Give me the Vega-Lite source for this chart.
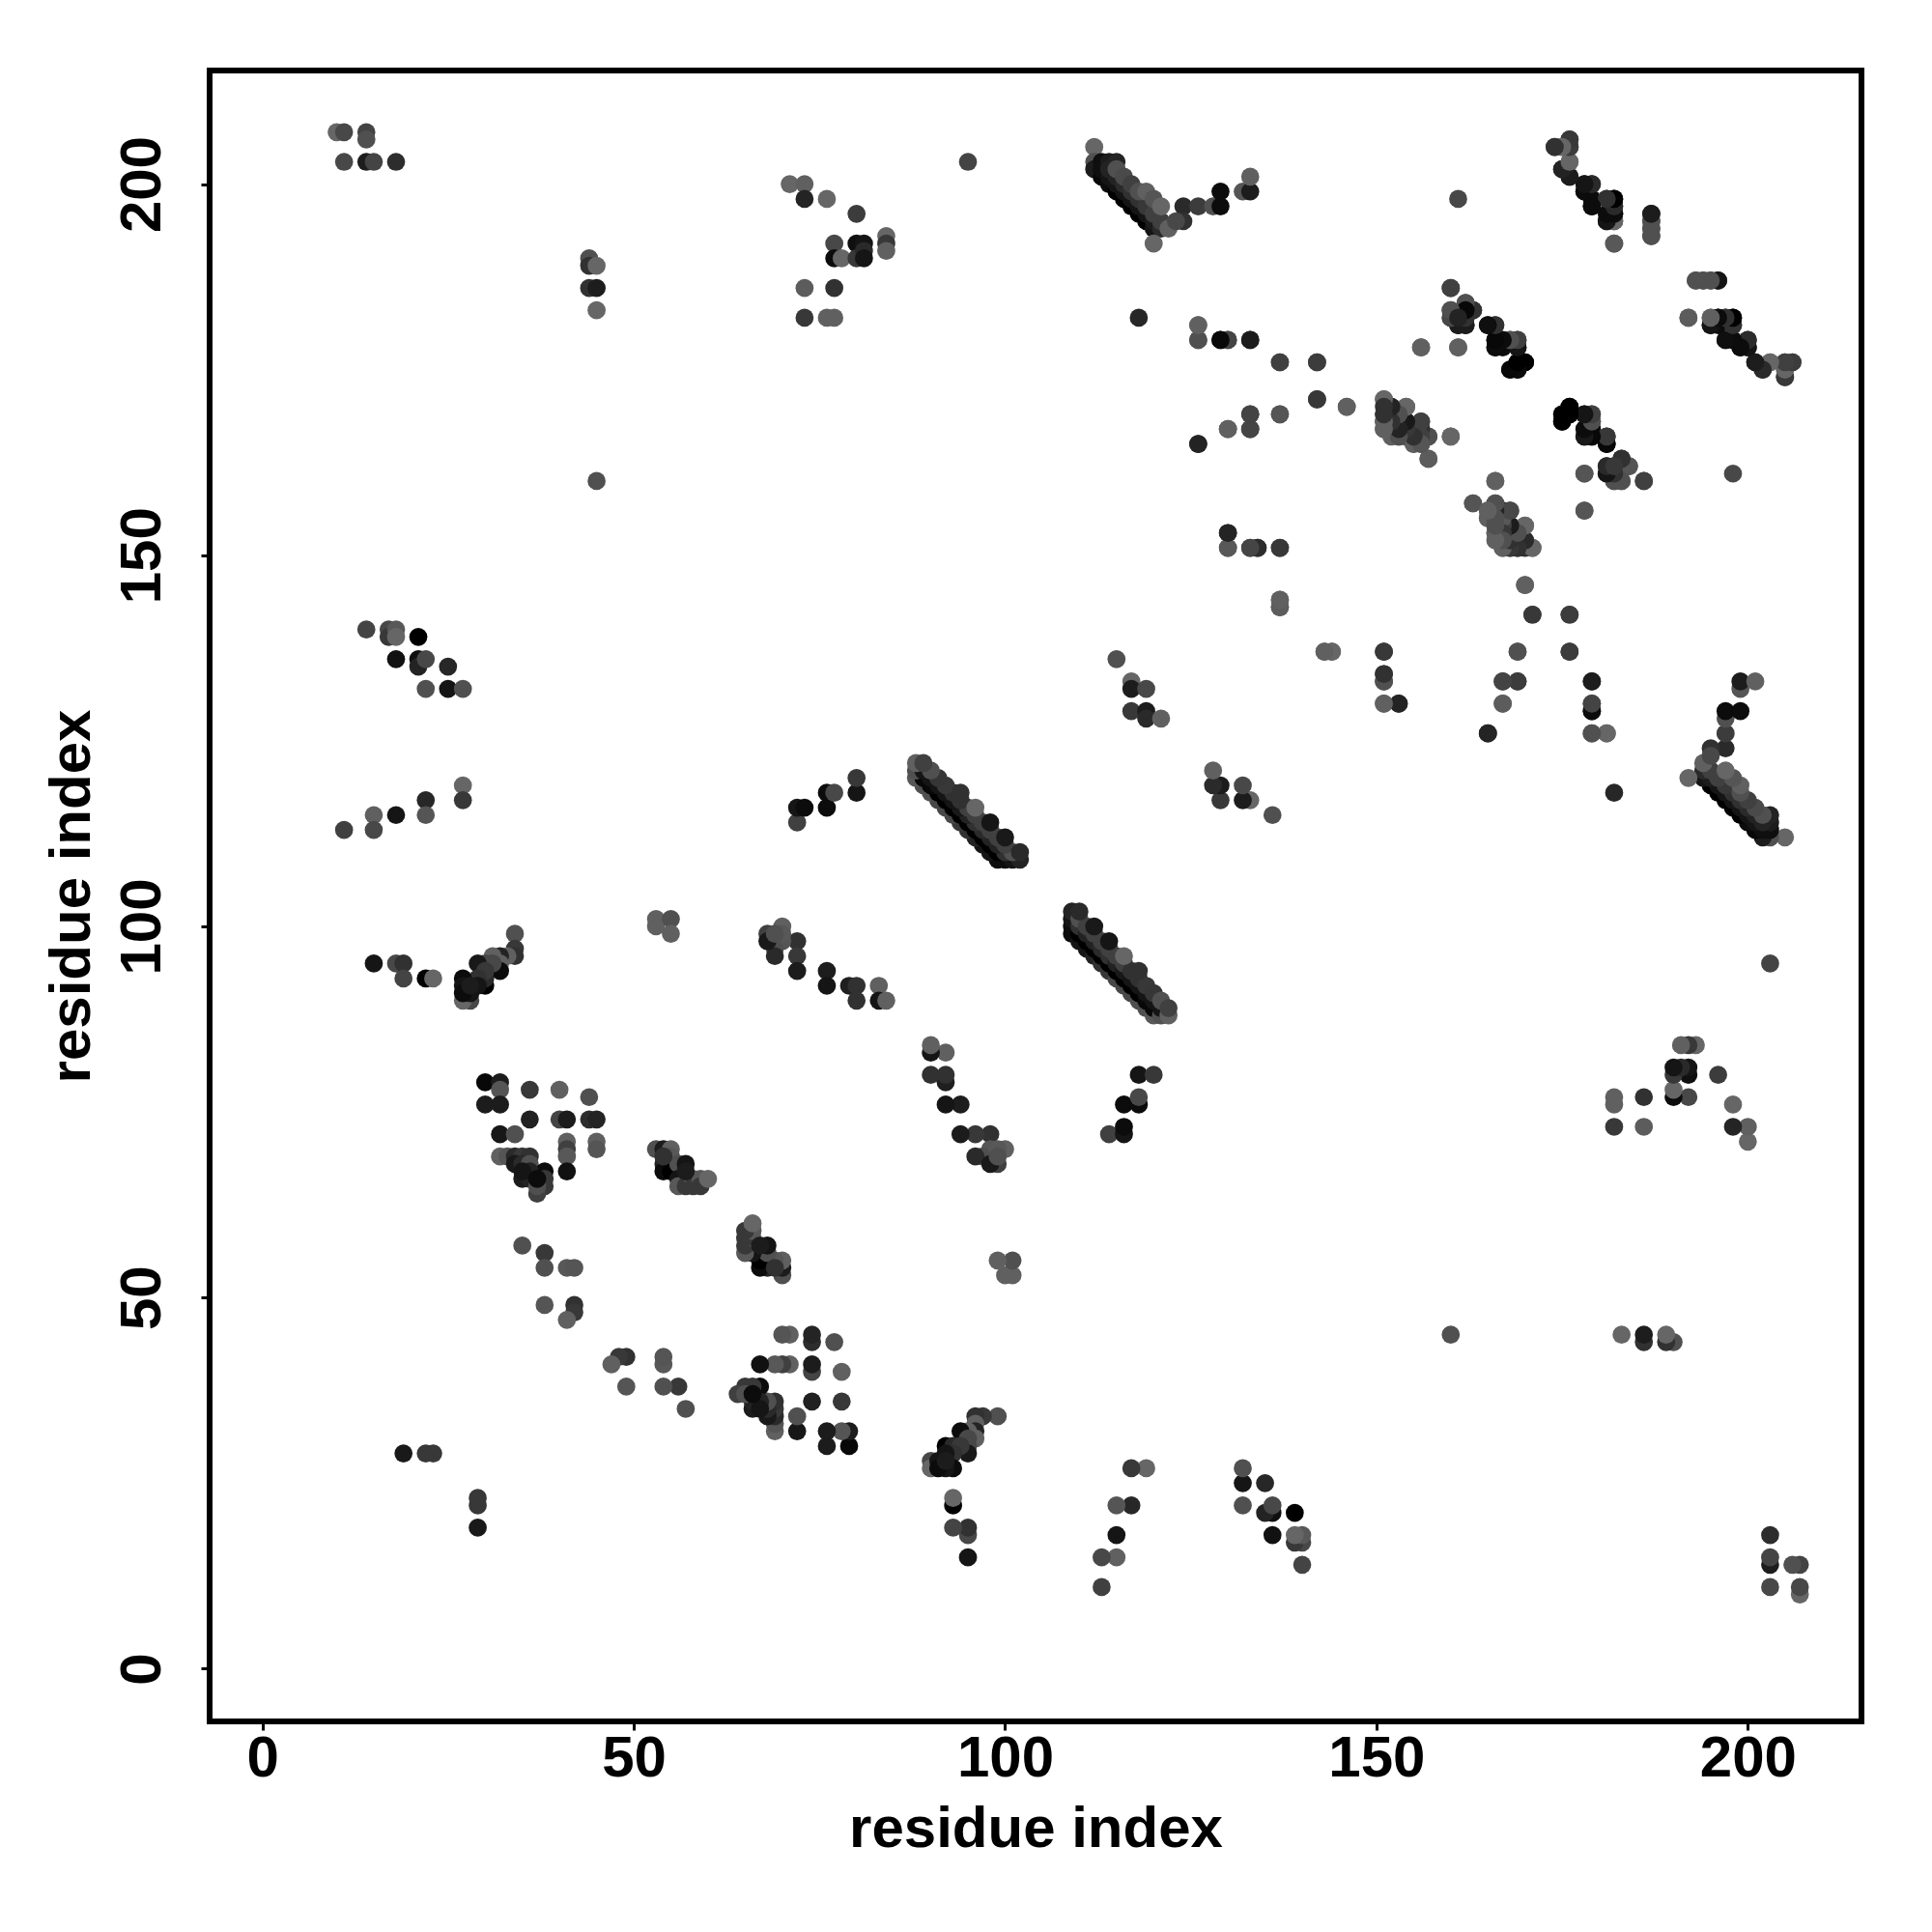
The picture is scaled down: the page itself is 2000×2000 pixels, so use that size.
{"$schema":"https://vega.github.io/schema/vega-lite/v6.json","width":1710,"height":1709,"autosize":"none","padding":{"left":217,"top":73,"right":73,"bottom":218},"background":"white","config":{"view":{"stroke":"black","strokeWidth":6,"fill":"white"},"axis":{"domain":false,"grid":false,"tickColor":"black","tickWidth":3,"tickSize":9,"labelFont":"Liberation Sans","labelFontWeight":"bold","labelFontSize":60,"labelColor":"black","titleFont":"Liberation Sans","titleFontWeight":"bold","titleFontSize":60,"titleColor":"black"}},"data":{"values":[
{"i":10,"j":207,"s":102},{"i":11,"j":207,"s":72},{"i":14,"j":207,"s":68},{"i":14,"j":206,"s":80},{"i":11,"j":203,"s":72},{"i":14,"j":203,"s":26},{"i":15,"j":203,"s":68},{"i":18,"j":203,"s":44},
{"i":44,"j":190,"s":80},{"i":44,"j":189,"s":48},{"i":45,"j":189,"s":102},{"i":44,"j":186,"s":48},{"i":45,"j":186,"s":26},{"i":45,"j":183,"s":102},{"i":45,"j":160,"s":80},
{"i":71,"j":200,"s":102},{"i":73,"j":200,"s":96},{"i":73,"j":198,"s":34},{"i":76,"j":198,"s":102},{"i":80,"j":196,"s":60},{"i":77,"j":192,"s":72},{"i":77,"j":190,"s":8},{"i":78,"j":190,"s":102},{"i":80,"j":192,"s":10},{"i":81,"j":192,"s":16},{"i":80,"j":190,"s":56},{"i":81,"j":191,"s":40},{"i":81,"j":190,"s":16},{"i":84,"j":193,"s":102},{"i":84,"j":192,"s":56},{"i":84,"j":191,"s":96},{"i":73,"j":186,"s":92},{"i":77,"j":186,"s":48},{"i":73,"j":182,"s":56},{"i":76,"j":182,"s":96},{"i":77,"j":182,"s":96},{"i":95,"j":203,"s":68},
{"i":112,"j":205,"s":102},{"i":112,"j":203,"s":80},{"i":112,"j":202,"s":24},{"i":113,"j":201,"s":5},{"i":114,"j":200,"s":8},{"i":115,"j":199,"s":0},{"i":116,"j":198,"s":0},{"i":117,"j":197,"s":0},{"i":118,"j":196,"s":0},{"i":119,"j":195,"s":0},{"i":120,"j":194,"s":16},
{"i":113,"j":203,"s":10},{"i":113,"j":202,"s":10},{"i":114,"j":201,"s":16},{"i":115,"j":200,"s":16},{"i":116,"j":199,"s":16},{"i":117,"j":198,"s":16},{"i":118,"j":197,"s":16},{"i":119,"j":196,"s":16},{"i":120,"j":195,"s":24},{"i":121,"j":194,"s":40},
{"i":114,"j":203,"s":24},{"i":114,"j":202,"s":32},{"i":115,"j":201,"s":32},{"i":116,"j":200,"s":40},{"i":117,"j":199,"s":48},{"i":118,"j":198,"s":48},{"i":119,"j":197,"s":56},{"i":120,"j":196,"s":64},{"i":121,"j":195,"s":64},
{"i":115,"j":203,"s":32},{"i":115,"j":202,"s":80},{"i":116,"j":201,"s":74},{"i":117,"j":200,"s":64},{"i":118,"j":199,"s":80},{"i":119,"j":199,"s":96},{"i":120,"j":198,"s":85},{"i":121,"j":197,"s":102},{"i":122,"j":194,"s":96},{"i":120,"j":192,"s":102},
{"i":124,"j":197,"s":40},{"i":126,"j":197,"s":60},{"i":128,"j":197,"s":80},{"i":129,"j":197,"s":8},{"i":129,"j":199,"s":8},{"i":132,"j":199,"s":85},{"i":133,"j":199,"s":24},{"i":133,"j":201,"s":96},{"i":124,"j":195,"s":48},{"i":123,"j":195,"s":72},
{"i":118,"j":182,"s":37},{"i":126,"j":181,"s":102},{"i":126,"j":179,"s":80},{"i":129,"j":179,"s":8},{"i":130,"j":179,"s":68},{"i":133,"j":179,"s":26},{"i":137,"j":176,"s":60},{"i":142,"j":176,"s":60},{"i":142,"j":171,"s":56},{"i":146,"j":170,"s":96},{"i":133,"j":169,"s":60},{"i":137,"j":169,"s":80},{"i":130,"j":167,"s":92},{"i":133,"j":167,"s":68},{"i":126,"j":165,"s":34},{"i":130,"j":153,"s":32},{"i":130,"j":151,"s":96},{"i":133,"j":151,"s":80},{"i":134,"j":151,"s":48},{"i":137,"j":151,"s":56},{"i":137,"j":144,"s":102},{"i":137,"j":143,"s":96},{"i":143,"j":137,"s":92},{"i":144,"j":137,"s":96},{"i":115,"j":136,"s":80},{"i":117,"j":133,"s":102},{"i":117,"j":132,"s":24},{"i":119,"j":132,"s":72},{"i":117,"j":129,"s":56},{"i":119,"j":129,"s":24},{"i":119,"j":128,"s":40},{"i":121,"j":128,"s":96},
{"i":174,"j":205,"s":56},{"i":175,"j":205,"s":102},{"i":176,"j":206,"s":60},{"i":176,"j":205,"s":64},{"i":176,"j":203,"s":102},{"i":175,"j":202,"s":40},{"i":176,"j":201,"s":26},{"i":178,"j":200,"s":16},{"i":179,"j":200,"s":42},{"i":178,"j":199,"s":8},{"i":179,"j":198,"s":8},{"i":179,"j":197,"s":10},{"i":181,"j":198,"s":48},{"i":182,"j":198,"s":0},{"i":181,"j":195,"s":16},{"i":182,"j":197,"s":48},{"i":182,"j":196,"s":8},{"i":182,"j":195,"s":96},{"i":182,"j":192,"s":92},{"i":187,"j":196,"s":16},{"i":187,"j":195,"s":80},{"i":187,"j":194,"s":80},{"i":187,"j":193,"s":80},
{"i":193,"j":187,"s":80},{"i":194,"j":187,"s":80},{"i":195,"j":187,"s":80},{"i":196,"j":187,"s":24},{"i":192,"j":182,"s":88},{"i":195,"j":182,"s":102},{"i":195,"j":181,"s":16},{"i":196,"j":182,"s":8},{"i":196,"j":181,"s":8},{"i":197,"j":182,"s":40},{"i":198,"j":182,"s":0},{"i":198,"j":181,"s":48},{"i":197,"j":179,"s":8},{"i":199,"j":178,"s":8},{"i":200,"j":179,"s":40},{"i":200,"j":178,"s":16},{"i":201,"j":176,"s":24},{"i":202,"j":175,"s":32},{"i":203,"j":176,"s":102},{"i":205,"j":176,"s":60},{"i":206,"j":176,"s":56},{"i":205,"j":175,"s":102},{"i":205,"j":174,"s":48},
{"i":160,"j":186,"s":64},{"i":162,"j":184,"s":85},{"i":163,"j":183,"s":48},{"i":160,"j":183,"s":80},{"i":160,"j":182,"s":80},{"i":161,"j":182,"s":48},{"i":161,"j":181,"s":16},{"i":162,"j":181,"s":40},{"i":162,"j":182,"s":56},{"i":165,"j":181,"s":5},{"i":166,"j":181,"s":56},{"i":166,"j":179,"s":5},{"i":166,"j":178,"s":21},{"i":167,"j":178,"s":8},{"i":168,"j":179,"s":80},{"i":169,"j":179,"s":64},{"i":169,"j":178,"s":16},{"i":168,"j":175,"s":0},{"i":169,"j":175,"s":0},{"i":170,"j":176,"s":0},{"i":169,"j":176,"s":0},{"i":156,"j":178,"s":85},{"i":161,"j":178,"s":85},
{"i":151,"j":171,"s":102},{"i":152,"j":170,"s":40},{"i":154,"j":170,"s":102},{"i":151,"j":169,"s":48},{"i":151,"j":168,"s":56},{"i":151,"j":167,"s":96},{"i":152,"j":168,"s":48},{"i":153,"j":169,"s":80},{"i":153,"j":166,"s":96},{"i":154,"j":168,"s":24},{"i":154,"j":167,"s":64},{"i":155,"j":167,"s":88},{"i":155,"j":165,"s":96},{"i":156,"j":168,"s":72},{"i":156,"j":166,"s":32},{"i":157,"j":166,"s":80},{"i":157,"j":163,"s":85},{"i":160,"j":166,"s":96},{"i":153,"j":167,"s":56},{"i":152,"j":167,"s":80},{"i":152,"j":166,"s":96},{"i":154,"j":166,"s":80},{"i":155,"j":166,"s":80},{"i":156,"j":165,"s":96},
{"i":176,"j":170,"s":0},{"i":175,"j":169,"s":8},{"i":175,"j":168,"s":5},{"i":176,"j":169,"s":0},{"i":178,"j":169,"s":16},{"i":179,"j":169,"s":64},{"i":179,"j":168,"s":80},{"i":178,"j":166,"s":8},{"i":179,"j":167,"s":8},{"i":179,"j":166,"s":5},{"i":181,"j":166,"s":48},{"i":181,"j":165,"s":10},{"i":178,"j":161,"s":96},{"i":181,"j":162,"s":24},{"i":181,"j":161,"s":24},{"i":183,"j":163,"s":48},{"i":184,"j":162,"s":80},{"i":182,"j":162,"s":48},{"i":183,"j":162,"s":5},{"i":182,"j":160,"s":72},{"i":183,"j":160,"s":80},{"i":186,"j":160,"s":64},{"i":182,"j":161,"s":32},{"i":198,"j":161,"s":72},{"i":178,"j":156,"s":96},
{"i":166,"j":160,"s":102},{"i":163,"j":157,"s":92},{"i":166,"j":157,"s":80},{"i":167,"j":156,"s":48},{"i":168,"j":156,"s":64},{"i":165,"j":155,"s":96},{"i":166,"j":156,"s":64},{"i":165,"j":156,"s":85},{"i":166,"j":155,"s":48},{"i":167,"j":154,"s":56},{"i":168,"j":154,"s":21},{"i":170,"j":154,"s":102},{"i":166,"j":153,"s":80},{"i":167,"j":153,"s":32},{"i":169,"j":153,"s":80},{"i":168,"j":152,"s":48},{"i":170,"j":152,"s":32},{"i":167,"j":151,"s":96},{"i":168,"j":151,"s":96},{"i":169,"j":151,"s":48},{"i":171,"j":151,"s":102},{"i":170,"j":151,"s":48},{"i":170,"j":146,"s":96},{"i":171,"j":142,"s":56},{"i":176,"j":142,"s":60},{"i":169,"j":137,"s":85},{"i":176,"j":137,"s":64},{"i":151,"j":137,"s":56},{"i":151,"j":134,"s":42},{"i":151,"j":133,"s":69},{"i":151,"j":130,"s":88},{"i":153,"j":130,"s":34},{"i":167,"j":133,"s":69},{"i":169,"j":133,"s":68},{"i":167,"j":130,"s":96},{"i":165,"j":126,"s":32},{"i":179,"j":133,"s":24},{"i":179,"j":130,"s":68},{"i":179,"j":129,"s":5},{"i":179,"j":126,"s":80},{"i":181,"j":126,"s":96},
{"i":99,"j":109,"s":8},{"i":98,"j":110,"s":16},{"i":97,"j":111,"s":16},{"i":96,"j":112,"s":32},{"i":95,"j":113,"s":48},{"i":94,"j":114,"s":56},{"i":93,"j":115,"s":72},{"i":92,"j":116,"s":72},{"i":91,"j":117,"s":72},{"i":90,"j":118,"s":80},{"i":89,"j":119,"s":80},{"i":88,"j":120,"s":88},
{"i":100,"j":109,"s":8},{"i":99,"j":110,"s":0},{"i":98,"j":111,"s":0},{"i":97,"j":112,"s":0},{"i":96,"j":113,"s":0},{"i":95,"j":114,"s":0},{"i":94,"j":115,"s":0},{"i":93,"j":116,"s":0},{"i":92,"j":117,"s":0},{"i":91,"j":118,"s":0},{"i":90,"j":119,"s":5},{"i":89,"j":120,"s":5},{"i":88,"j":121,"s":80},
{"i":101,"j":109,"s":16},{"i":100,"j":110,"s":48},{"i":99,"j":111,"s":32},{"i":98,"j":112,"s":32},{"i":97,"j":113,"s":40},{"i":96,"j":114,"s":48},{"i":95,"j":115,"s":32},{"i":94,"j":116,"s":21},{"i":93,"j":117,"s":16},{"i":92,"j":118,"s":16},{"i":91,"j":119,"s":16},{"i":90,"j":120,"s":16},{"i":89,"j":121,"s":16},{"i":88,"j":122,"s":96},
{"i":102,"j":109,"s":32},{"i":101,"j":110,"s":80},{"i":100,"j":111,"s":64},{"i":99,"j":112,"s":64},{"i":98,"j":113,"s":64},{"i":97,"j":114,"s":64},{"i":96,"j":115,"s":64},{"i":95,"j":116,"s":64},{"i":94,"j":117,"s":48},{"i":93,"j":118,"s":48},{"i":92,"j":119,"s":56},{"i":91,"j":120,"s":53},{"i":90,"j":121,"s":80},{"i":89,"j":122,"s":64},
{"i":102,"j":110,"s":40},{"i":100,"j":112,"s":21},{"i":98,"j":114,"s":16},{"i":96,"j":116,"s":102},{"i":94,"j":118,"s":48},
{"i":72,"j":114,"s":64},{"i":72,"j":116,"s":16},{"i":73,"j":116,"s":8},{"i":76,"j":116,"s":8},{"i":76,"j":118,"s":8},{"i":77,"j":118,"s":72},{"i":80,"j":118,"s":16},{"i":80,"j":120,"s":56},
{"i":72,"j":98,"s":48},{"i":72,"j":96,"s":56},{"i":72,"j":94,"s":24},{"i":76,"j":94,"s":26},{"i":76,"j":92,"s":16},{"i":79,"j":92,"s":28},{"i":80,"j":92,"s":48},{"i":80,"j":90,"s":48},{"i":83,"j":92,"s":96},{"i":83,"j":90,"s":16},{"i":84,"j":90,"s":96},
{"i":70,"j":100,"s":96},{"i":70,"j":98,"s":85},{"i":69,"j":98,"s":88},{"i":69,"j":97,"s":80},{"i":69,"j":96,"s":40},{"i":68,"j":99,"s":64},{"i":68,"j":98,"s":21},{"i":70,"j":99,"s":88},{"i":69,"j":99,"s":80},
{"i":34,"j":99,"s":80},{"i":34,"j":97,"s":56},{"i":34,"j":96,"s":48},{"i":33,"j":96,"s":96},{"i":32,"j":96,"s":32},{"i":31,"j":96,"s":96},{"i":32,"j":95,"s":96},{"i":32,"j":94,"s":8},{"i":31,"j":95,"s":72},{"i":30,"j":95,"s":72},{"i":29,"j":95,"s":21},{"i":30,"j":92,"s":0},{"i":30,"j":93,"s":40},{"i":30,"j":94,"s":56},{"i":29,"j":93,"s":48},{"i":29,"j":92,"s":16},{"i":28,"j":90,"s":72},{"i":27,"j":90,"s":102},{"i":28,"j":91,"s":16},{"i":27,"j":93,"s":8},{"i":27,"j":92,"s":16},{"i":27,"j":91,"s":8},{"i":28,"j":92,"s":24},
{"i":14,"j":140,"s":68},{"i":17,"j":140,"s":72},{"i":17,"j":139,"s":56},{"i":18,"j":140,"s":88},{"i":18,"j":139,"s":102},{"i":21,"j":139,"s":0},{"i":18,"j":136,"s":12},{"i":21,"j":136,"s":10},{"i":21,"j":135,"s":32},{"i":22,"j":136,"s":72},{"i":25,"j":135,"s":37},{"i":22,"j":132,"s":80},{"i":25,"j":132,"s":16},{"i":27,"j":132,"s":80},{"i":27,"j":119,"s":102},{"i":27,"j":117,"s":56},{"i":22,"j":117,"s":37},{"i":22,"j":115,"s":85},{"i":18,"j":115,"s":16},{"i":15,"j":115,"s":96},{"i":15,"j":113,"s":72},{"i":11,"j":113,"s":64},{"i":15,"j":95,"s":16},{"i":18,"j":95,"s":72},{"i":19,"j":95,"s":48},{"i":19,"j":93,"s":68},{"i":22,"j":93,"s":0},{"i":23,"j":93,"s":102},{"i":19,"j":29,"s":21},{"i":22,"j":29,"s":56},{"i":23,"j":29,"s":56},
{"i":30,"j":79,"s":5},{"i":32,"j":79,"s":24},{"i":32,"j":78,"s":85},{"i":36,"j":78,"s":56},{"i":40,"j":78,"s":96},{"i":44,"j":77,"s":80},{"i":30,"j":76,"s":24},{"i":32,"j":76,"s":24},{"i":36,"j":74,"s":30},{"i":40,"j":74,"s":68},{"i":41,"j":74,"s":24},{"i":44,"j":74,"s":44},{"i":45,"j":74,"s":34},{"i":32,"j":72,"s":18},{"i":34,"j":72,"s":80},{"i":41,"j":71,"s":96},{"i":45,"j":71,"s":96},{"i":41,"j":70,"s":64},{"i":45,"j":70,"s":85},{"i":41,"j":69,"s":88},{"i":41,"j":67,"s":12},{"i":32,"j":69,"s":96},{"i":33,"j":69,"s":85},{"i":34,"j":69,"s":40},{"i":35,"j":69,"s":56},{"i":36,"j":69,"s":48},{"i":34,"j":68,"s":21},{"i":35,"j":68,"s":40},{"i":36,"j":68,"s":80},{"i":35,"j":66,"s":24},{"i":36,"j":66,"s":32},{"i":38,"j":67,"s":8},{"i":38,"j":66,"s":56},{"i":38,"j":65,"s":56},{"i":37,"j":64,"s":64},{"i":37,"j":65,"s":80},{"i":36,"j":67,"s":32},{"i":35,"j":67,"s":16},{"i":37,"j":66,"s":8},
{"i":53,"j":70,"s":80},{"i":54,"j":70,"s":24},{"i":55,"j":70,"s":96},{"i":54,"j":68,"s":32},{"i":54,"j":67,"s":8},{"i":55,"j":69,"s":88},{"i":55,"j":67,"s":0},{"i":56,"j":68,"s":80},{"i":57,"j":68,"s":16},{"i":56,"j":66,"s":16},{"i":57,"j":66,"s":8},{"i":56,"j":65,"s":88},{"i":57,"j":65,"s":56},{"i":58,"j":66,"s":96},{"i":58,"j":65,"s":56},{"i":59,"j":66,"s":88},{"i":59,"j":65,"s":56},{"i":60,"j":66,"s":102},{"i":57,"j":67,"s":24},{"i":54,"j":69,"s":48},
{"i":35,"j":57,"s":80},{"i":38,"j":56,"s":56},{"i":38,"j":54,"s":80},{"i":41,"j":54,"s":88},{"i":42,"j":54,"s":85},{"i":38,"j":49,"s":85},{"i":42,"j":49,"s":48},{"i":42,"j":48,"s":56},{"i":41,"j":47,"s":96},
{"i":53,"j":101,"s":96},{"i":53,"j":100,"s":96},{"i":55,"j":101,"s":80},{"i":55,"j":99,"s":96}
]},"layer":[{"mark":{"type":"point","filled":true,"opacity":1,"size":350},"encoding":{"x":{"field":"i","type":"quantitative","scale":{"domain":[-7.1,215.3],"nice":false,"zero":false},"axis":{"values":[0,50,100,150,200],"title":"residue index","labelPadding":0,"titlePadding":14,"labelFlush":false}},"y":{"field":"j","type":"quantitative","scale":{"domain":[-7.1,215.3],"nice":false,"zero":false},"axis":{"values":[0,50,100,150,200],"title":"residue index","labelAngle":-90,"labelAlign":"center","labelBaseline":"bottom","labelPadding":30,"titlePadding":12,"labelFlush":false}},"color":{"field":"s","type":"quantitative","scale":{"domain":[0,102],"range":["#000000","#666666"]},"legend":null},"order":[{"field":"i"},{"field":"j"}]}},{"mark":{"type":"point","filled":true,"opacity":1,"size":350},"encoding":{"x":{"field":"j","type":"quantitative"},"y":{"field":"i","type":"quantitative"},"color":{"field":"s","type":"quantitative","scale":{"domain":[0,102],"range":["#000000","#666666"]},"legend":null},"order":[{"field":"j"},{"field":"i"}]}}]}
